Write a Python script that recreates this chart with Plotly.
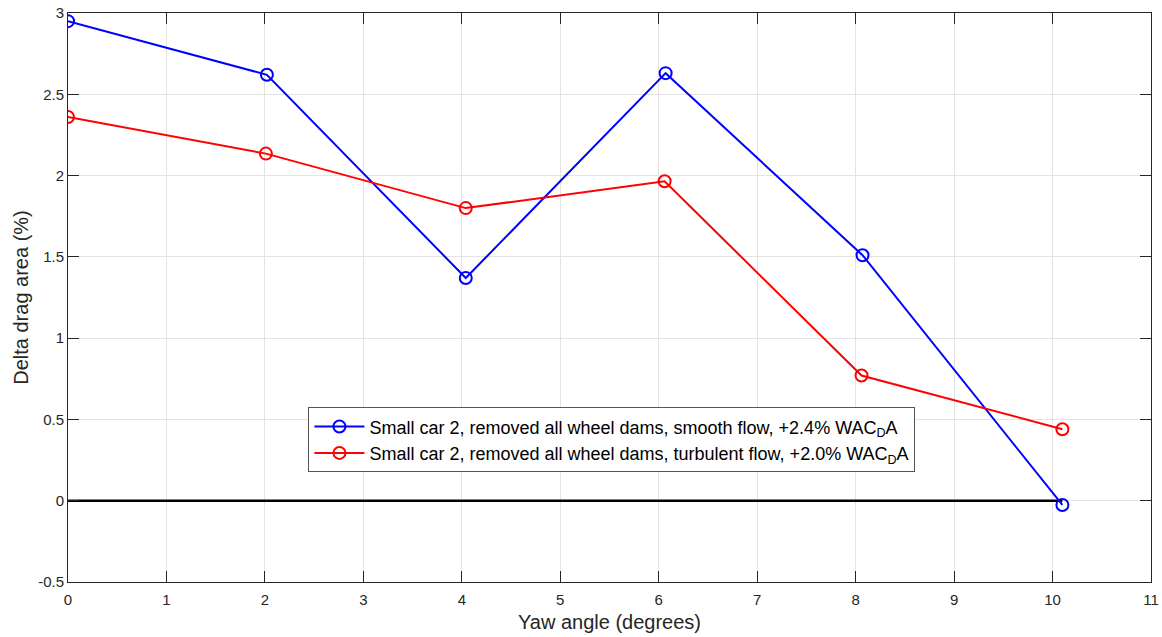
import plotly.graph_objects as go

# Yaw angles (degrees) for each run
yaw_smooth = [0.0, 2.02, 4.04, 6.07, 8.07, 10.1]
yaw_turb = [0.0, 2.01, 4.04, 6.06, 8.06, 10.1]

# Delta drag area (%) relative to baseline
delta_smooth = [2.95, 2.62, 1.37, 2.63, 1.51, -0.026]
delta_turb = [2.36, 2.135, 1.80, 1.965, 0.77, 0.44]

name_smooth = "Small car 2, removed all wheel dams, smooth flow, +2.4% WAC<sub>D</sub>A"
name_turb = "Small car 2, removed all wheel dams, turbulent flow, +2.0% WAC<sub>D</sub>A"

# Zero reference line spanning the measured yaw range
zero_x = [yaw_smooth[0], yaw_smooth[-1]]
zero_y = [0, 0]

x_ticks = list(range(0, 12))
y_ticks = [-0.5, 0, 0.5, 1, 1.5, 2, 2.5, 3]
y_tick_text = ["-0.5", "0", "0.5", "1", "1.5", "2", "2.5", "3"]

FONT = "Liberation Sans, Arial, sans-serif"

fig = go.Figure()

fig.add_trace(go.Scatter(
    x=zero_x, y=zero_y, mode="lines",
    line=dict(color="black", width=2.5),
    showlegend=False, hoverinfo="skip",
))

marker_common = dict(symbol="circle-open", size=12, line=dict(width=2))

fig.add_trace(go.Scatter(
    x=yaw_smooth, y=delta_smooth, mode="lines+markers",
    name=name_smooth,
    line=dict(color="#0000ff", width=2),
    marker=dict(color="#0000ff", **marker_common),
))
fig.add_trace(go.Scatter(
    x=yaw_turb, y=delta_turb, mode="lines+markers",
    name=name_turb,
    line=dict(color="#ff0000", width=2),
    marker=dict(color="#ff0000", **marker_common),
))

axis_common = dict(
    showline=True, linecolor="#262626", linewidth=1,
    mirror="ticks", ticks="inside", ticklen=11, tickwidth=1,
    tickcolor="#262626",
    showgrid=True, gridcolor="#e3e3e3", gridwidth=1,
    zeroline=False, automargin=False,
    tickfont=dict(family=FONT, size=15, color="#262626"),
)

fig.update_layout(
    width=1162, height=637,
    margin=dict(l=68, r=11, t=13, b=55),
    paper_bgcolor="white", plot_bgcolor="white",
    font=dict(family=FONT, color="#262626"),
    xaxis=dict(
        range=[0, 11], tickvals=x_ticks, ticklabelstandoff=4,
        title=dict(text="Yaw angle (degrees)", font=dict(size=20, color="#262626"), standoff=7),
        **axis_common,
    ),
    yaxis=dict(
        range=[-0.5, 3], tickvals=y_ticks, ticktext=y_tick_text,
        title=dict(text="Delta drag area (%)", font=dict(size=20, color="#262626"), standoff=4),
        **axis_common,
    ),
    legend=dict(
        x=0.222, y=0.307, xanchor="left", yanchor="top",
        bgcolor="white", bordercolor="#555555", borderwidth=1,
        font=dict(size=18, color="black"),
        tracegroupgap=0, itemwidth=50,
    ),
    showlegend=True,
)

fig.write_html("out.html")
